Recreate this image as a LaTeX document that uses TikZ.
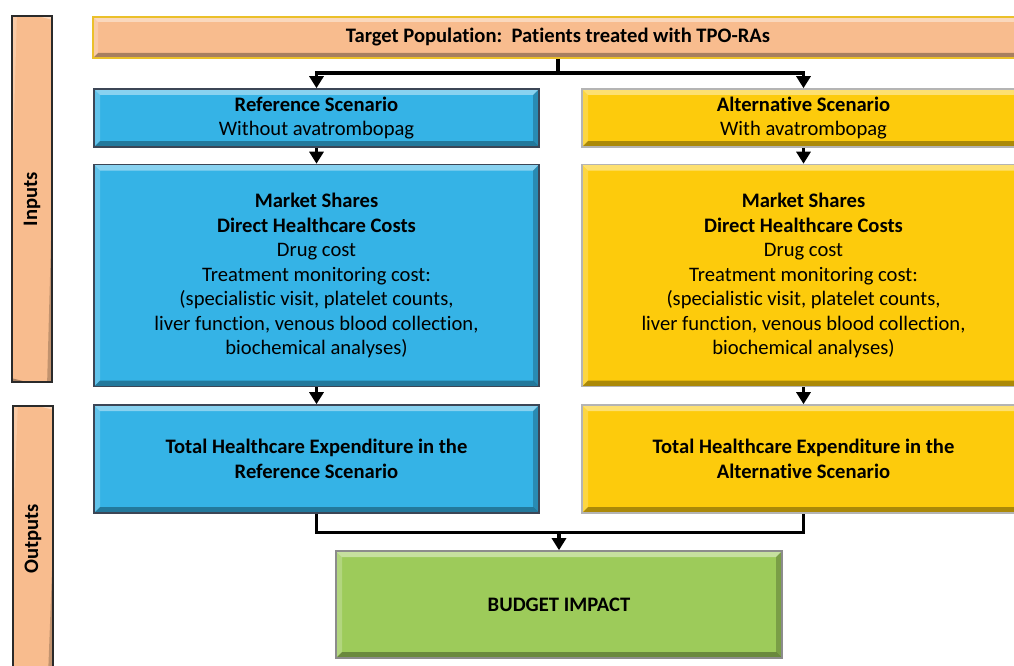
\documentclass[tikz,border=0pt]{standalone}
\usepackage{fontspec}
\setmainfont[Ligatures={NoCommon}]{Carlito}
\usetikzlibrary{arrows.meta}
\definecolor{peach}{HTML}{F8BC8E}
\definecolor{peachedge}{HTML}{2A2A2A}
\definecolor{goldedge}{HTML}{EBC02A}
\definecolor{skyfill}{HTML}{35B3E6}
\definecolor{skyedge}{HTML}{3C4656}
\definecolor{sunfill}{HTML}{FDCB0C}
\definecolor{sunedge}{HTML}{B4B4B4}
\definecolor{leaf}{HTML}{9DCB5A}
\definecolor{leafedge}{HTML}{8C8C8C}
\begin{document}
\begin{tikzpicture}[x=1pt,y=-1pt,
  txt/.style={font=\fontsize{20.6}{24.5}\selectfont},
  bevel/.style={path picture={
    \coordinate (bnw) at (path picture bounding box.north west);
    \coordinate (bne) at (path picture bounding box.north east);
    \coordinate (bsw) at (path picture bounding box.south west);
    \coordinate (bse) at (path picture bounding box.south east);
    \fill[white,opacity=.42] (bnw)--(bne)--([shift={(-#1,-#1)}]bne)--([shift={(#1,-#1)}]bnw)--cycle;
    \fill[white,opacity=.22] (bnw)--([shift={(#1,-#1)}]bnw)--([shift={(#1,#1)}]bsw)--(bsw)--cycle;
    \fill[black,opacity=.32] (bsw)--(bse)--([shift={(-#1,#1)}]bse)--([shift={(#1,#1)}]bsw)--cycle;
    \fill[black,opacity=.22] (bne)--([shift={(-#1,-#1)}]bne)--([shift={(-#1,#1)}]bse)--(bse)--cycle;
  }},
  box/.style={rectangle, inner sep=0pt, align=center, txt, text=black, bevel=6pt, line width=1.6pt},
  refbox/.style={box, fill=skyfill, draw=skyedge},
  altbox/.style={box, fill=sunfill, draw=sunedge},
  sidebar/.style={box, fill=peach, draw=peachedge, rotate=90, font=\fontsize{20.6}{24.5}\selectfont\bfseries, bevel=5pt, line width=1.4pt},
  conn/.style={line width=3.5pt, line join=miter, draw=black},
  arr/.style={conn, -{Triangle[width=14pt,length=12pt]}}
]
\useasboundingbox (0,0) rectangle (1014,666);
\clip (0,0) rectangle (1014,666);

% stage labels
\node[sidebar, minimum width=366pt, minimum height=40pt] (inputs) at (32,199) {Inputs};
\node[sidebar, minimum width=266pt, minimum height=40pt] (outputs) at (33,539) {Outputs};

% population
\node[box, fill=peach, draw=goldedge, minimum width=930pt, minimum height=41pt, font=\fontsize{20.6}{24.5}\selectfont\bfseries, bevel=5pt] (pop) at (558,37.5)
  {Target Population:\ \ Patients treated with TPO-RAs};

% scenarios
\node[refbox, minimum width=445pt, minimum height=58pt] (ref) at (316.5,118)
  {\textbf{Reference Scenario}\\Without avatrombopag};
\node[altbox, minimum width=443pt, minimum height=58pt] (alt) at (803.5,118)
  {\textbf{Alternative Scenario}\\With avatrombopag};

% cost inputs
\node[refbox, minimum width=445pt, minimum height=222pt] (refin) at (316.5,275.5)
  {\textbf{Market Shares}\\\textbf{Direct Healthcare Costs}\\Drug cost\\Treatment monitoring cost:\\(specialistic visit, platelet counts,\\liver function, venous blood collection,\\biochemical analyses)};
\node[altbox, minimum width=443pt, minimum height=222pt] (altin) at (803.5,275.5)
  {\textbf{Market Shares}\\\textbf{Direct Healthcare Costs}\\Drug cost\\Treatment monitoring cost:\\(specialistic visit, platelet counts,\\liver function, venous blood collection,\\biochemical analyses)};

% totals
\node[refbox, minimum width=445pt, minimum height=108pt] (reftot) at (316.5,459)
  {\textbf{Total Healthcare Expenditure in the}\\\textbf{Reference Scenario}};
\node[altbox, minimum width=443pt, minimum height=108pt] (alttot) at (803.5,459)
  {\textbf{Total Healthcare Expenditure in the}\\\textbf{Alternative Scenario}};

% result
\node[box, fill=leaf, draw=leafedge, minimum width=446pt, minimum height=107pt, font=\fontsize{20.6}{24.5}\selectfont\bfseries] (budget) at (559,604.5)
  {BUDGET IMPACT};

% connectors
\coordinate (split) at (558,73);
\coordinate (merge) at (559,532.5);
\draw[arr] (pop.south -| split) -- (split) -| (ref.north -| reftot.south);
\draw[arr] (split) -| (alt.north -| alttot.south);
\draw[arr] (ref.south) -- (refin.north);
\draw[arr] (alt.south) -- (altin.north);
\draw[arr] (refin.south) -- (reftot.north);
\draw[arr] (altin.south) -- (alttot.north);
\draw[conn] (reftot.south) |- (merge) -| (alttot.south);
\draw[arr] (merge) -- (budget.north);
\end{tikzpicture}
\end{document}
